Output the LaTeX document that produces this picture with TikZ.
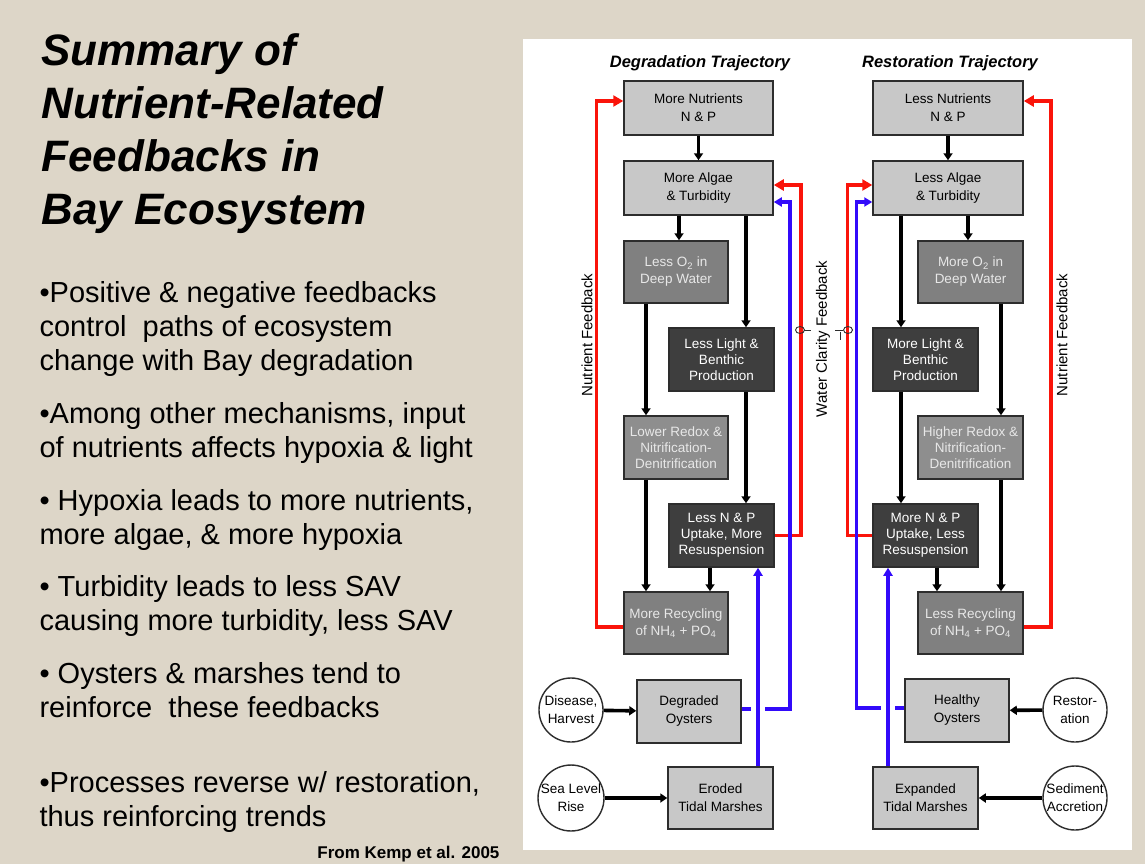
\documentclass[tikz,border=0pt]{standalone}
\usepackage{fontspec}
\setmainfont{Liberation Sans}
\usetikzlibrary{arrows.meta,calc}
\definecolor{bg}{RGB}{221,214,200}
\definecolor{lbox}{RGB}{200,200,200}
\definecolor{mbox}{RGB}{128,128,128}
\definecolor{mboxb}{RGB}{142,142,142}
\definecolor{dbox}{RGB}{62,62,62}
\definecolor{bord}{RGB}{45,45,45}
\definecolor{fbred}{RGB}{250,20,10}
\definecolor{fbblue}{RGB}{50,10,250}
\definecolor{ltxt}{RGB}{232,232,232}
\begin{document}
\begin{tikzpicture}[x=1pt,y=-1pt,
  box/.style={draw=bord, line width=1.5pt, rectangle, align=center, inner sep=1pt, font=\fontsize{13.5}{18}\selectfont},
  lightbox/.style={box, fill=lbox, text=black},
  midbox/.style={box, fill=mbox, text=ltxt},
  midboxb/.style={box, fill=mboxb, text=ltxt},
  darkbox/.style={box, fill=dbox, text=white},
  tight/.style={font=\fontsize{13.5}{16}\selectfont},
  circ/.style={draw=bord, line width=1.4pt, circle, minimum size=64pt, inner sep=0pt, align=center, fill=white, font=\fontsize{13.5}{18}\selectfont},
  blk/.style={line width=3.6pt, -{Triangle[length=7pt,width=9pt]}},
  redl/.style={draw=fbred, line width=3.5pt, -{Triangle[length=10pt,width=11pt]}},
  bluel/.style={draw=fbblue, line width=3.5pt, -{Triangle[length=8pt,width=9pt]}},
  titlef/.style={anchor=base west, font=\fontsize{44}{52}\selectfont\bfseries\itshape},
  bullf/.style={anchor=base west, font=\fontsize{29}{34}\selectfont},
  headf/.style={anchor=base, font=\fontsize{16.5}{20}\selectfont\bfseries\itshape},
  vlab/.style={rotate=90, font=\fontsize{15}{18}\selectfont}
]
\useasboundingbox (0,0) rectangle (1145,864);
\fill[bg] (0,0) rectangle (1145,864);
\fill[white] (523,39) rectangle (1132,850);

% ---------- left text ----------
\node[titlef] (ti1) at (38,66) {Summary of};
\node[titlef] (ti2) at (38,119) {Nutrient-Related};
\node[titlef] (ti3) at (38,171) {Feedbacks in};
\node[titlef] (ti4) at (38,224) {Bay Ecosystem};

\node[bullf] (b1) at (36,302) {•Positive \& negative feedbacks};
\node[bullf] (b2) at (36,336) {control\ \ paths of ecosystem};
\node[bullf] (b3) at (36,370) {change with Bay degradation};
\node[bullf] (b4) at (36,423) {•Among other mechanisms, input};
\node[bullf] (b5) at (36,457) {of nutrients affects hypoxia \& light};
\node[bullf] (b6) at (36,510) {• Hypoxia leads to more nutrients,};
\node[bullf] (b7) at (36,544) {more algae, \& more hypoxia};
\node[bullf] (b8) at (36,596) {• Turbidity leads to less SAV};
\node[bullf] (b9) at (36,630) {causing more turbidity, less SAV};
\node[bullf] (b10) at (36,683) {• Oysters \& marshes tend to};
\node[bullf] (b11) at (36,717) {reinforce\ \ these feedbacks};
\node[bullf] (b12) at (36,792) {•Processes reverse w/ restoration,};
\node[bullf] (b13) at (36,826) {thus reinforcing trends};
\node[anchor=base east, font=\fontsize{17}{20}\selectfont\bfseries] (src) at (503,858) {From Kemp et al. 2005};

% ---------- headings ----------
\node[headf] (hd) at (700,68) {Degradation Trajectory};
\node[headf] (hr) at (950,68) {Restoration Trajectory};

% ---------- degradation boxes ----------
\node[lightbox, minimum width=149pt, minimum height=54pt] (dn) at (698.5,108) {More Nutrients\\N \& P};
\node[lightbox, minimum width=149pt, minimum height=54pt] (da) at (698.5,188) {More Algae\\\& Turbidity};
\node[midbox, minimum width=104pt, minimum height=62pt, font=\fontsize{13.5}{17}\selectfont] (do) at (676,272) {Less O\textsubscript{2} in\\Deep Water};
\node[darkbox, tight, minimum width=105pt, minimum height=63pt] (dl) at (721.5,359.5) {Less Light \&\\Benthic\\Production};
\node[midboxb, tight, minimum width=104pt, minimum height=63pt] (dr) at (676,447.5) {Lower Redox \&\\Nitrification-\\Denitrification};
\node[darkbox, tight, minimum width=105pt, minimum height=63pt] (du) at (721.5,535.5) {Less N \& P\\Uptake, More\\Resuspension};
\node[midbox, minimum width=104pt, minimum height=62pt, font=\fontsize{13.5}{17}\selectfont] (dc) at (676,623) {More Recycling\\of NH\textsubscript{4} + PO\textsubscript{4}};
\node[lightbox, minimum width=104pt, minimum height=63pt] (dy) at (689,711.5) {Degraded\\Oysters};
\node[lightbox, minimum width=105pt, minimum height=62pt] (dm) at (720.5,798) {Eroded\\Tidal Marshes};
\node[circ] (dd) at (571,710) {Disease,\\Harvest};
\node[circ] (ds) at (571,798) {Sea Level\\Rise};

% ---------- restoration boxes ----------
\node[lightbox, minimum width=150pt, minimum height=54pt] (rn) at (948,108) {Less Nutrients\\N \& P};
\node[lightbox, minimum width=150pt, minimum height=54pt] (ra) at (948,188) {Less Algae\\\& Turbidity};
\node[midbox, minimum width=105pt, minimum height=62pt, font=\fontsize{13.5}{17}\selectfont] (ro) at (970.5,272) {More O\textsubscript{2} in\\Deep Water};
\node[darkbox, tight, minimum width=105pt, minimum height=63pt] (rl) at (925.5,359.5) {More Light \&\\Benthic\\Production};
\node[midboxb, tight, minimum width=105pt, minimum height=63pt] (rr) at (970.5,447.5) {Higher Redox \&\\Nitrification-\\Denitrification};
\node[darkbox, tight, minimum width=105pt, minimum height=63pt] (ru) at (925.5,535.5) {More N \& P\\Uptake, Less\\Resuspension};
\node[midbox, minimum width=105pt, minimum height=62pt, font=\fontsize{13.5}{17}\selectfont] (rc) at (970.5,623) {Less Recycling\\of NH\textsubscript{4} + PO\textsubscript{4}};
\node[lightbox, minimum width=104pt, minimum height=63pt] (ry) at (957,710.5) {Healthy\\Oysters};
\node[lightbox, minimum width=105pt, minimum height=62pt] (rm) at (925.5,798) {Expanded\\Tidal Marshes};
\node[circ] (rs) at (1075,710) {Restor-\\ation};
\node[circ] (ra2) at (1075,798) {Sediment\\Accretion};

% ---------- helper x positions ----------
\coordinate (xJ) at (679,0);
\coordinate (xA) at (746,0);
\coordinate (xB) at (646,0);
\coordinate (xC) at (710,0);
\coordinate (xD) at (758,0);
\coordinate (xK) at (968,0);
\coordinate (xE) at (901,0);
\coordinate (xF) at (1001,0);
\coordinate (xG) at (937,0);
\coordinate (xH) at (888,0);

% ---------- black arrows: degradation ----------
\draw[blk] (dn) -- (da);
\draw[blk] (da.south -| xJ) -- (do.north -| xJ);
\draw[blk] (da.south -| xA) -- (dl.north -| xA);
\draw[blk] (dl.south -| xA) -- (du.north -| xA);
\draw[blk] (do.south -| xB) -- (dr.north -| xB);
\draw[blk] (dr.south -| xB) -- (dc.north -| xB);
\draw[blk] (du.south -| xC) -- (dc.north -| xC);
\draw[blk] (dd) -- (dy);
\draw[blk] (ds) -- (dm);

% ---------- black arrows: restoration ----------
\draw[blk] (rn) -- (ra);
\draw[blk] (ra.south -| xK) -- (ro.north -| xK);
\draw[blk] (ra.south -| xE) -- (rl.north -| xE);
\draw[blk] (rl.south -| xE) -- (ru.north -| xE);
\draw[blk] (ro.south -| xF) -- (rr.north -| xF);
\draw[blk] (rr.south -| xF) -- (rc.north -| xF);
\draw[blk] (ru.south -| xG) -- (rc.north -| xG);
\draw[blk] (rs) -- (ry);
\draw[blk] (ra2) -- (rm);

% ---------- nutrient feedback loops ----------
\draw[redl] ($(dc.west)+(0,4)$) -- ++(-27,0) |- ($(dn.west)+(0,-7)$);
\draw[redl] ($(rc.east)+(0,4)$) -- ++(27,0) |- ($(rn.east)+(0,-7)$);
\node[vlab] (nfl) at (587,335) {Nutrient Feedback};
\node[vlab] (nfr) at (1062,335) {Nutrient Feedback};

% ---------- water clarity loops ----------
\draw[redl] (du.east) -- ++(26,0) |- ($(da.east)+(0,-3)$);
\draw[bluel] ($(dy.east)+(0,-2.5)$) -- ++(48,0) |- ($(da.east)+(0,14)$);
\draw[redl] (ru.west) -- ++(-25,0) |- ($(ra.west)+(0,-3)$);
\draw[bluel] ($(ry.west)+(0,-2.5)$) -- ++(-48,0) |- ($(ra.west)+(0,14)$);

\coordinate (cxL) at ($(dy.east -| xD)+(0,-2.5)$);
\coordinate (cxR) at ($(ry.west -| xH)+(0,-2.5)$);
\draw[white, line width=6pt] ($(cxL)+(-7,0)$) -- ($(cxL)+(7,0)$);
\draw[white, line width=6pt] ($(cxR)+(-7,0)$) -- ($(cxR)+(7,0)$);
\draw[bluel] (dm.north -| xD) -- (du.south -| xD);
\draw[bluel] (rm.north -| xH) -- (ru.south -| xH);

\node[vlab] (wcf) at (823,339) {Water Clarity Feedback};
\draw[line width=0.8pt, draw=bord] (804,330) -- (811,330);
\draw[line width=0.8pt, draw=bord] (835,330) -- (843,330);
\draw[line width=0.8pt, draw=bord] (840,332) -- (840,340);
\draw[line width=0.9pt, draw=bord] (800,330) ellipse [x radius=4.5, y radius=3.5];
\draw[line width=0.9pt, draw=bord] (848,330) ellipse [x radius=4.5, y radius=3.5];
\end{tikzpicture}
\end{document}
